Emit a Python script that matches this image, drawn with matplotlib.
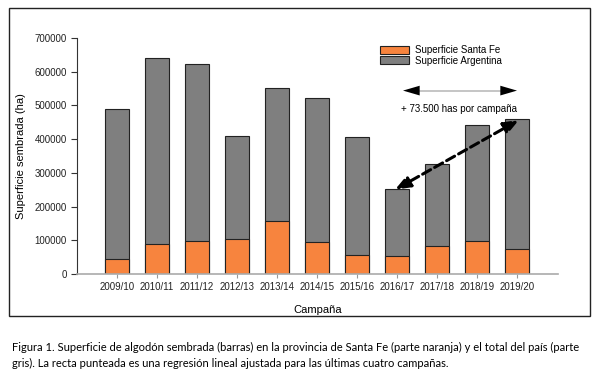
import numpy as np
import matplotlib
matplotlib.use("Agg")
import matplotlib.pyplot as plt
from matplotlib.patches import Rectangle, Patch

plt.rcParams['font.family'] = ['Liberation Sans', 'DejaVu Sans']

campanas = ["2009/10", "2010/11", "2011/12", "2012/13", "2013/14", "2014/15",
            "2015/16", "2016/17", "2017/18", "2018/19", "2019/20"]
sup_argentina = [490000, 640000, 622000, 410000, 551000, 523000,
                 405000, 252000, 326000, 441000, 460000]
sup_santafe = [45000, 88000, 97000, 104000, 156000, 94000,
               55000, 52000, 84000, 98000, 75000]

gris = "#7f7f7f"
naranja = "#f7843e"

fig = plt.figure(figsize=(6.02, 3.84), dpi=100)
W, H = 602, 384
ax = fig.add_axes([77 / W, 1 - 274 / H, (558 - 77) / W, (274 - 38) / H])

x = np.arange(len(campanas))
ax.bar(x, sup_argentina, width=0.6, color=gris, edgecolor="#222222", linewidth=0.8)
ax.bar(x, sup_santafe, width=0.6, color=naranja, edgecolor="#222222", linewidth=0.8)

ax.set_xlim(-1.0, 11.025)
ax.set_ylim(0, 700000)
ax.set_yticks(np.arange(0, 700001, 100000))
ax.set_xticks(x)
ax.set_xticklabels(campanas)
ax.tick_params(axis='both', labelsize=7, colors="#222222")
ax.tick_params(axis='y', length=4, width=0.8, color="#333333")
ax.tick_params(axis='x', length=3, width=0.8, color="#999999", pad=3)
for s in ['top', 'right']:
    ax.spines[s].set_visible(False)
ax.spines['left'].set_color("#333333")
ax.spines['left'].set_linewidth(0.8)
ax.spines['bottom'].set_color("#aaaaaa")
ax.spines['bottom'].set_linewidth(1.2)

ax.set_ylabel("Superficie sembrada (ha)", fontsize=8, labelpad=6)
ax.set_xlabel("Campaña", fontsize=8, labelpad=9)

handles = [Patch(facecolor=naranja, edgecolor="#222222", linewidth=0.8, label="Superficie Santa Fe"),
           Patch(facecolor=gris, edgecolor="#222222", linewidth=0.8, label="Superficie Argentina")]
ax.legend(handles=handles, loc='upper left', bbox_to_anchor=(0.62, 0.99), frameon=False,
          fontsize=7, handlelength=3.0, handleheight=0.9, labelspacing=0.05,
          handletextpad=0.6, borderpad=0)

# flecha horizontal y texto
ax.annotate("", xy=(10.0, 544000), xytext=(7.15, 544000),
            arrowprops=dict(arrowstyle="<|-|>,head_length=1.2,head_width=0.35",
                            color="black", lw=0.0, shrinkA=0, shrinkB=0))
ax.plot([7.4, 9.8], [544000, 544000], color="#bbbbbb", lw=1.2)
ax.text(8.55, 490000, "+ 73.500 has por campaña", fontsize=7, ha='center', va='center')

# recta de regresión (punteada)
ax.annotate("", xy=(10.05, 457000), xytext=(6.95, 250000),
            arrowprops=dict(arrowstyle="<|-|>,head_length=0.9,head_width=0.35",
                            color="black", lw=2.2, linestyle=(0, (3, 1.5)),
                            shrinkA=0, shrinkB=0))

# marco
fig.patches.append(Rectangle((9 / W, 1 - 316 / H), (590 - 9) / W, (316 - 8) / H,
                             transform=fig.transFigure, fill=False,
                             edgecolor="#222222", linewidth=1.0))

fig.text(12 / W, 1 - 347 / H,
         "Figura 1. Superficie de algodón sembrada (barras) en la provincia de Santa Fe (parte naranja) y el total del país (parte",
         fontsize=8.0, va='center', ha='left', family=['Lato', 'DejaVu Sans'])
fig.text(12 / W, 1 - 363 / H,
         "gris). La recta punteada es una regresión lineal ajustada para las últimas cuatro campañas.",
         fontsize=8.0, va='center', ha='left', family=['Lato', 'DejaVu Sans'])

fig.savefig("out.png", dpi=100)
